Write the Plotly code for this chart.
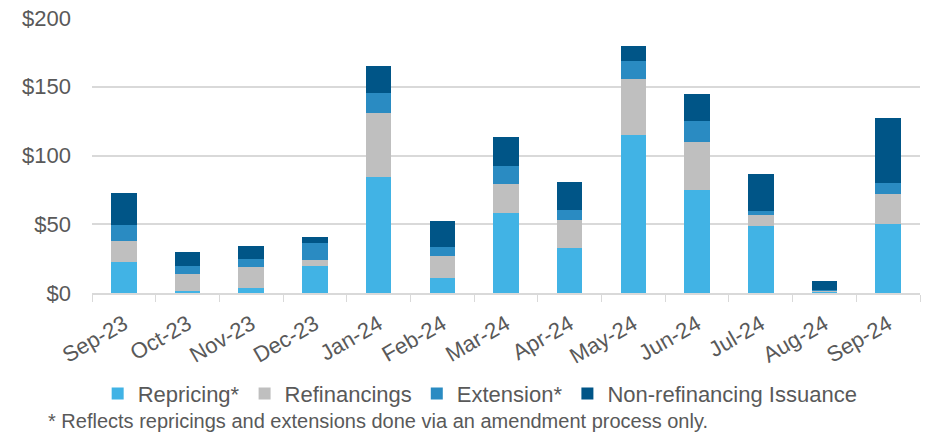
import plotly.graph_objects as go

months = ["Sep-23", "Oct-23", "Nov-23", "Dec-23", "Jan-24", "Feb-24", "Mar-24",
          "Apr-24", "May-24", "Jun-24", "Jul-24", "Aug-24", "Sep-24"]

repricing = [22.8, 1.7, 3.9, 19.6, 84.6, 10.7, 58.4, 32.5, 115.2, 75.2, 48.9, 1.0, 50.4]
refinancings = [15.0, 11.9, 15.3, 4.4, 46.1, 16.5, 21.1, 20.6, 40.7, 34.4, 7.6, 0.6, 21.6]
extension = [11.7, 6.0, 5.5, 12.4, 14.5, 6.0, 12.9, 7.0, 13.1, 15.5, 3.1, 0.5, 8.0]
non_refinancing = [23.2, 10.4, 9.7, 4.1, 20.1, 19.4, 20.8, 20.6, 10.6, 19.6, 26.7, 6.6, 47.5]

series = [
    ("Repricing*", repricing, "#41b3e5"),
    ("Refinancings", refinancings, "#bfbfbf"),
    ("Extension*", extension, "#2a8bc2"),
    ("Non-refinancing Issuance", non_refinancing, "#005587"),
]

TXT = "#595959"
FONT = "Arial, Liberation Sans"

fig = go.Figure()
for name, vals, col in series:
    fig.add_trace(go.Bar(
        x=months, y=vals, name=name,
        marker_color=col,
        marker_line_width=0,
        width=0.4,
    ))

fig.update_layout(
    barmode="stack",
    width=936, height=435,
    margin=dict(l=92, r=16, t=18, b=142),
    paper_bgcolor="white",
    plot_bgcolor="white",
    font=dict(family=FONT, size=22, color=TXT),
    showlegend=True,
    legend=dict(
        orientation="h",
        traceorder="normal",
        x=0.513, xref="container", xanchor="center",
        y=0.095, yref="container", yanchor="middle",
        font=dict(family=FONT, size=22, color=TXT),
        itemwidth=30,
    ),
    annotations=[dict(
        text="* Reflects repricings and extensions done via an amendment process only.",
        xref="paper", yref="paper",
        x=-0.055, y=-0.466, xanchor="left", yanchor="middle",
        showarrow=False,
        font=dict(family=FONT, size=20, color=TXT),
    )],
)

fig.update_xaxes(
    type="category",
    automargin=False,
    tickangle=-30,
    showline=True, linecolor="#d9d9d9", linewidth=1.5,
    ticks="outside", tickson="boundaries", ticklen=7, tickcolor="#d9d9d9",
    showgrid=False,
    tickfont=dict(size=22, color=TXT),
    ticklabelstandoff=8,
)
fig.update_yaxes(
    automargin=False,
    range=[0, 200],
    dtick=50,
    tickprefix="$",
    showgrid=True, gridcolor="#d9d9d9", gridwidth=1.5,
    zeroline=False,
    showline=False,
    tickfont=dict(size=22, color=TXT),
    ticklabelstandoff=20,
)

# drop the browser's default 8px body margin so the figure sits at the page corner
fig.write_html(
    "out.html",
    config={"displayModeBar": False},
    post_script="document.body.style.margin='0px';",
)
